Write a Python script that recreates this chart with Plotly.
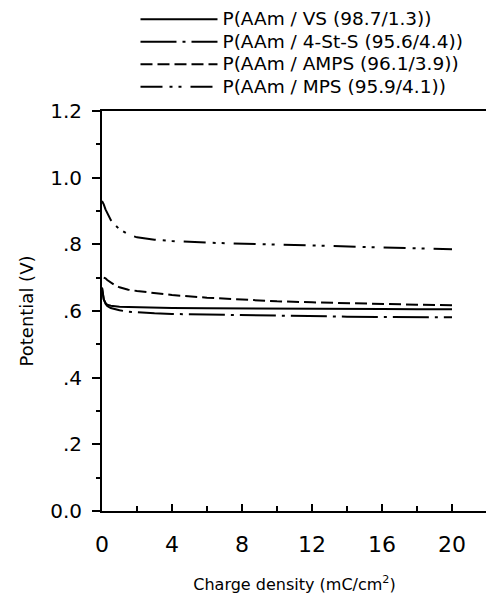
import plotly.graph_objects as go

charge_density = [0, 0.1, 0.2, 0.3, 0.5, 0.75, 1, 1.5, 2, 3, 4, 6, 8, 10, 12, 14, 16, 18, 20]

vs_potential = [0.67, 0.635, 0.624, 0.619, 0.616, 0.614, 0.613, 0.612, 0.611, 0.61, 0.609, 0.608, 0.608, 0.607, 0.607, 0.606, 0.606, 0.605, 0.605]
stS_potential = [0.67, 0.635, 0.622, 0.615, 0.609, 0.605, 0.602, 0.598, 0.596, 0.593, 0.591, 0.589, 0.587, 0.585, 0.584, 0.583, 0.582, 0.582, 0.581]
amps_potential = [None, 0.70, 0.698, 0.693, 0.685, 0.677, 0.671, 0.664, 0.66, 0.653, 0.648, 0.64, 0.634, 0.629, 0.626, 0.623, 0.621, 0.619, 0.617]
mps_potential = [0.93, 0.92, 0.905, 0.893, 0.873, 0.858, 0.845, 0.83, 0.821, 0.814, 0.81, 0.805, 0.802, 0.799, 0.796, 0.793, 0.79, 0.787, 0.785]

series_names = ["P(AAm / VS (98.7/1.3))", "P(AAm / 4-St-S (95.6/4.4))",
                "P(AAm / AMPS (96.1/3.9))", "P(AAm / MPS (95.9/4.1))"]
series_values = [vs_potential, stS_potential, amps_potential, mps_potential]
series_dash = ["solid", "36px,6px,3px,6px", "12px,5px", "22px,7px,3px,6px,3px,9px"]

y_tick_vals = [0, 0.2, 0.4, 0.6, 0.8, 1.0, 1.2]
y_tick_text = ["0.0", ".2", ".4", ".6", ".8", "1.0", "1.2"]
x_tick_vals = [0, 4, 8, 12, 16, 20]

fig = go.Figure()
for name, vals, dash in zip(series_names, series_values, series_dash):
    fig.add_trace(go.Scatter(x=charge_density, y=vals, mode="lines",
                             name='<span style="font-size:18.5px">' + name + '</span>',
                             line=dict(color="black", width=2, dash=dash),
                             connectgaps=False))

font_family = "DejaVu Sans, Liberation Sans, Arial, sans-serif"
fig.update_layout(
    width=494, height=598,
    margin=dict(l=94, r=15, t=103, b=95, autoexpand=False),
    plot_bgcolor="white", paper_bgcolor="white",
    font=dict(family=font_family, color="black"),
    showlegend=True,
    legend=dict(x=0.087, y=1.27, xanchor="left", yanchor="top",
                font=dict(size=15, family=font_family), itemwidth=77,
                bgcolor="rgba(0,0,0,0)", tracegroupgap=0),
    xaxis=dict(range=[0, 22], tickvals=x_tick_vals, ticks="inside", ticklen=7,
               tickwidth=1.5, tickcolor="black", showgrid=False, zeroline=False,
               showline=True, linecolor="black", linewidth=2, mirror=True,
               tickfont=dict(size=22), ticklabelstandoff=13,
               minor=dict(tickvals=[2, 6, 10, 14, 18], ticks="inside", ticklen=5, tickcolor="black"),
               title=dict(text="Charge density (mC/cm<sup>2</sup>)", font=dict(size=16), standoff=22)),
    yaxis=dict(range=[0, 1.2], tickvals=y_tick_vals, ticktext=y_tick_text, ticks="outside",
               ticklen=8, tickwidth=1.5, tickcolor="black", showgrid=False, zeroline=False,
               showline=True, linecolor="black", linewidth=2, mirror=True,
               tickfont=dict(size=20), ticklabelstandoff=6,
               minor=dict(tickvals=[0.1, 0.3, 0.5, 0.7, 0.9, 1.1], ticks="outside", ticklen=4, tickcolor="black"),
               title=dict(text="Potential (V)", font=dict(size=18), standoff=12)),
)

fig.write_html("out.html")
